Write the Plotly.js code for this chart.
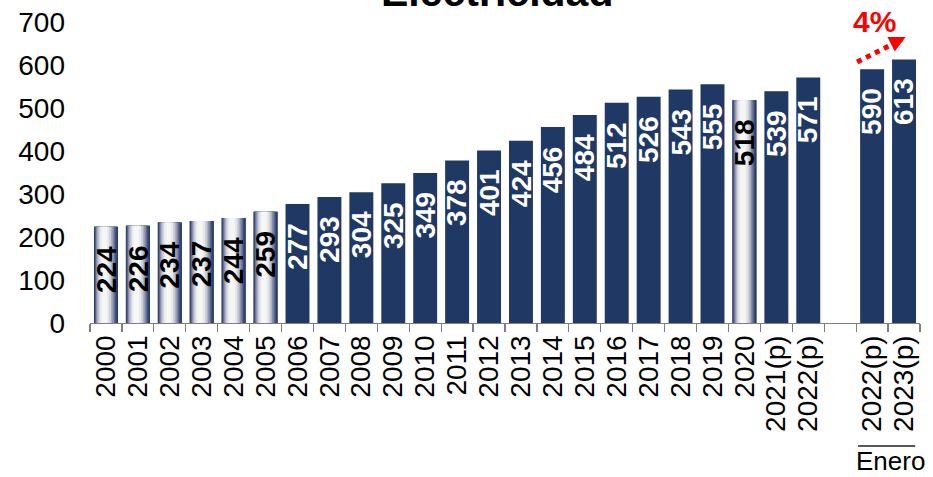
<!DOCTYPE html>
<html>
<head>
<meta charset="utf-8">
<script src="https://cdn.plot.ly/plotly-3.0.1.min.js"></script>
<style>html,body{margin:0;padding:0;background:#fff;}#chart{width:933px;height:477px;}</style>
</head>
<body>
<div id="chart"></div>
<script>
// ---- data ----
var categories = ["2000","2001","2002","2003","2004","2005","2006","2007","2008","2009","2010","2011","2012","2013","2014","2015","2016","2017","2018","2019","2020","2021(p)","2022(p)","gap","2022(p) Enero","2023(p) Enero"];
var tickLabels = ["2000","2001","2002","2003","2004","2005","2006","2007","2008","2009","2010","2011","2012","2013","2014","2015","2016","2017","2018","2019","2020","2021(p)","2022(p)","","2022(p)","2023(p)"];
var values = [224,226,234,237,244,259,277,293,304,325,349,378,401,424,456,484,512,526,543,555,518,539,571,null,590,613];
var gradientCategories = ["2000","2001","2002","2003","2004","2005","2020"];
var titleText = "Electricidad";
var growthText = "4%";
var groupLabel = "Enero";

// ---- style ----
var FONT = "Liberation Sans, Arial, sans-serif";
var NAVY = "#1F3864";
var BARW = 0.75;

var traces = [];
traces.push({
  type: "bar", x: categories, y: values, width: BARW,
  marker: {color: NAVY, line: {width: 0}}, hoverinfo: "skip"
});

// horizontal gradient imitation: stacked layers of narrower, lighter bars
var gx = [], gy = [];
categories.forEach(function(c, i){ if (gradientCategories.indexOf(c) >= 0) { gx.push(c); gy.push(values[i]); } });
var layers = [
  {w: 0.75, c: "#25386a", s: 0},
  {w: 0.69, c: "#3c4d79", s: 0.01},
  {w: 0.63, c: "#5f6a8c", s: 0.02},
  {w: 0.56, c: "#868ea8", s: 0.03},
  {w: 0.48, c: "#adb2c3", s: 0.035},
  {w: 0.39, c: "#d0d2da", s: 0.04},
  {w: 0.29, c: "#e8e9ed", s: 0.045},
  {w: 0.17, c: "#f6f6f7", s: 0.05}
];
layers.forEach(function(L){
  traces.push({
    type: "bar", x: gx, y: gy, width: L.w, offset: -L.w/2 - L.s,
    marker: {color: L.c, line: {width: 0}}, hoverinfo: "skip"
  });
});

var annotations = [];
categories.forEach(function(c, i){
  if (values[i] === null) return;
  var grad = gradientCategories.indexOf(c) >= 0;
  annotations.push({
    x: i, y: values[i], xref: "x", yref: "y", text: String(values[i]),
    showarrow: false, textangle: -90, yanchor: "top", xanchor: "center", yshift: -17,
    font: {family: FONT, size: 28, color: grad ? "#000000" : "#ffffff", weight: "bold"}
  });
});
annotations.push({
  x: 0.49, y: 1.10, xref: "paper", yref: "paper", text: "<b>" + titleText + "</b>",
  showarrow: false, xanchor: "center", yanchor: "middle",
  font: {family: FONT, size: 41, color: "#000"}
});
annotations.push({
  x: 24.09, y: 1.0, xref: "x", yref: "paper", yshift: 1, text: "<b>" + growthText + "</b>",
  showarrow: false, xanchor: "center", yanchor: "middle",
  font: {family: FONT, size: 30, color: "#FF0000"}
});
annotations.push({
  x: 25.05, y: 665, xref: "x", yref: "y", text: "", showarrow: true,
  ax: -12.5, ay: 6.3, arrowhead: 2, arrowsize: 0.65, arrowwidth: 5, arrowcolor: "#FF0000"
});
annotations.push({
  x: 24.59, y: -0.458, xref: "x", yref: "paper", text: groupLabel,
  showarrow: false, xanchor: "center", yanchor: "middle",
  font: {family: FONT, size: 26, color: "#000"}
});

var shapes = [
  {type: "line", xref: "x", yref: "y", x0: 23.53, y0: 607, x1: 24.6, y1: 647,
   line: {color: "#FF0000", width: 5, dash: "dot"}},
  {type: "line", xref: "x", yref: "paper", x0: 23.56, x1: 25.35, y0: -0.409, y1: -0.409,
   line: {color: "#595959", width: 2}}
];

var layout = {
  width: 933, height: 477,
  margin: {l: 90, r: 13, t: 22, b: 154, pad: 0},
  paper_bgcolor: "#ffffff", plot_bgcolor: "#ffffff",
  barmode: "overlay", showlegend: false,
  font: {family: FONT, color: "#000"},
  xaxis: {
    type: "category", categoryorder: "array", categoryarray: categories,
    tickmode: "array", tickvals: categories, ticktext: tickLabels,
    tickson: "boundaries", ticks: "outside", ticklen: 8, tickwidth: 1.2, tickcolor: "#7f7f7f",
    showline: true, linecolor: "#7f7f7f", linewidth: 1.2,
    tickangle: -90, tickfont: {family: FONT, size: 28, color: "#000"},
    range: [-0.5, 25.5], fixedrange: true, showgrid: false, zeroline: false
  },
  yaxis: {
    range: [0, 700], tickmode: "linear", tick0: 0, dtick: 100,
    showgrid: false, zeroline: false, showline: false, ticks: "",
    ticklabelstandoff: 24,
    tickfont: {family: FONT, size: 28, color: "#000"}, fixedrange: true
  },
  annotations: annotations, shapes: shapes, hovermode: false
};

Plotly.newPlot("chart", traces, layout, {displayModeBar: false, staticPlot: true});
</script>
</body>
</html>
